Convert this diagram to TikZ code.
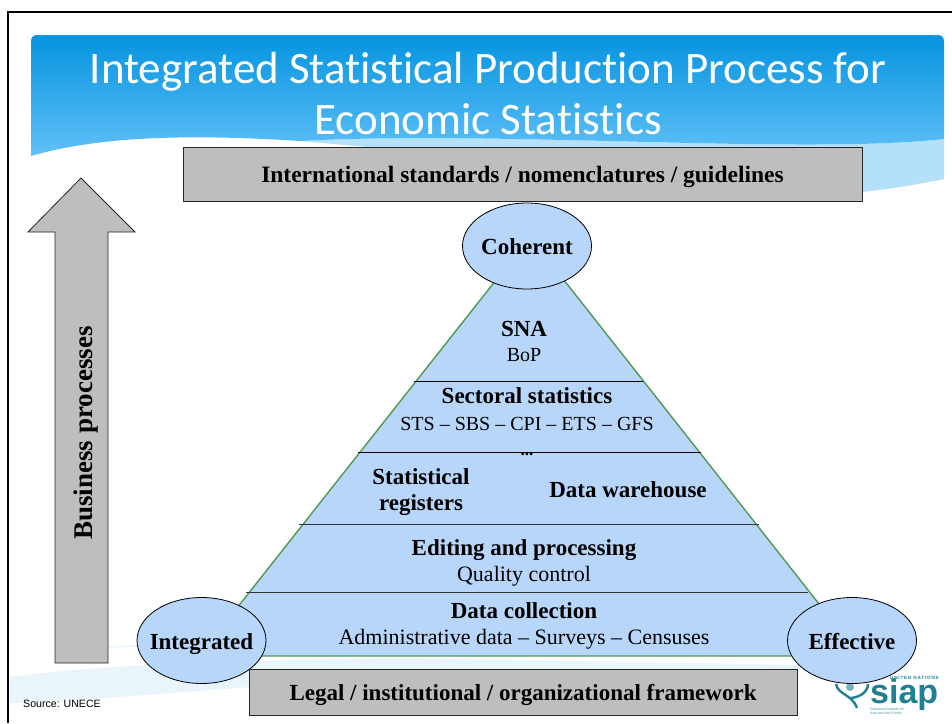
\documentclass[tikz,border=0pt]{standalone}
\usepackage{fontspec}
\setmainfont{Liberation Serif}
\newfontfamily\titlefont[Ligatures=CommonOff]{Carlito}
\newfontfamily\sourcefont{Liberation Sans}
\newfontfamily\spacedfont[LetterSpace=18]{Liberation Sans}
\usetikzlibrary{shapes.geometric}
\definecolor{layerblue}{HTML}{B8D6FA}
\definecolor{edgegreen}{HTML}{4F9A50}
\definecolor{boxgray}{HTML}{BEBEBE}
\definecolor{logoteal}{HTML}{1F7F93}
\definecolor{bannertop}{HTML}{0694E0}
\definecolor{bannerfoot}{HTML}{60C0F7}
\definecolor{bannerband}{HTML}{B4E0FA}
\definecolor{footband}{HTML}{EAF4FB}
\tikzset{
  graybox/.style={draw=black!85,fill=boxgray,line width=0.9pt,minimum height=#1,inner sep=0pt},
  bluecircle/.style={draw=black,fill=layerblue,ellipse,line width=0.8pt,minimum width=129pt,minimum height=86pt,inner xsep=-8pt,inner ysep=0pt},
  twolines/.style={font=\fontsize{23}{26}\selectfont\bfseries,align=center},
  boldtext/.style={twolines,text height=17pt,text depth=0pt},
  plaintext/.style={font=\fontsize{22}{26}\selectfont,text height=17pt,text depth=0pt}
}
\begin{document}
\begin{tikzpicture}[x=1pt,y=-1pt]
            \useasboundingbox (0,0) rectangle (952,723);
            \fill[white] (0,0) rectangle (952,723);
            % frame
            \draw[line width=1.7pt] (952,12) -- (8,12) -- (8,723);

            % title banner
            \fill[bannerband]
              (300,141) .. controls (500,130) and (800,155) .. (944,139)
              -- (944,179) .. controls (900,188) and (860,194) .. (800,196) -- (400,150) -- cycle;
            \shade[top color=bannertop,bottom color=bannerfoot]
              (31,42) .. controls (31,37) and (33,35) .. (38,35) -- (937,35)
              .. controls (942,35) and (944,37) .. (944,42) -- (944,139)
              .. controls (800,155) and (500,130) .. (300,141)
              .. controls (190,134) and (100,136) .. (31,156) -- cycle;

            % band at the foot of the slide
            \fill[footband]
              (10,677) .. controls (120,662) and (280,660) .. (400,658) -- (800,665) -- (800,672)
              -- (400,680) .. controls (250,683) and (120,700) .. (10,703) -- cycle;
            \draw[footband,line width=1.5pt] (108,647) -- (137,646);

            % title
            \node[text=white,font=\titlefont\fontsize{45}{51}\selectfont,align=center] (title) at (488,94)
              {Integrated Statistical Production Process for\\Economic Statistics};

            % frameworks
            \node[graybox=54pt,minimum width=679pt,boldtext,font=\fontsize{23.5}{26}\selectfont\bfseries] (standards) at (522.5,174)
              {International standards / nomenclatures / guidelines};
            \node[graybox=46pt,minimum width=548pt,boldtext] (legal) at (523,692)
              {Legal / institutional / organizational framework};

            % arrow
            \draw[draw=black!85,fill=boxgray,line width=0.8pt] (81,178) -- (135,232) -- (108,232) -- (108,663)
              -- (55,663) -- (55,232) -- (28,232) -- cycle;
            \node[boldtext,font=\fontsize{27}{27}\selectfont\bfseries,rotate=90] (business) at (83.5,433) {Business processes};

            % pyramid
            \coordinate (apex) at (530,237);
            \coordinate (left) at (199,656);
            \coordinate (right) at (860,656);
            \draw[edgegreen,fill=layerblue,line width=1.4pt] (apex) -- (right) -- (left) -- cycle;
            \draw[black,line width=0.8pt] (414,381) -- (643,381);
            \draw[black,line width=0.8pt] (358,452) -- (701,452);
            \draw[black!80,line width=0.8pt] (299,524) -- (759,524);
            \draw[black!80,line width=0.8pt] (246,592) -- (808,592);

            % logo
            \node[text=logoteal,font=\sourcefont\bfseries\fontsize{34}{34}\selectfont,anchor=base west,inner sep=0pt,text height=18pt,text depth=0pt] (siap) at (870,703) {siap};
            \fill[logoteal!60] (850,687) circle (4);
            \draw[logoteal,line width=2.4pt] (836,684) .. controls (838,695) and (852,694) .. (857,708);
            \draw[logoteal,line width=2.4pt] (868,684) .. controls (868,692) and (860,697) .. (851,698);
            \node[text=logoteal,font=\spacedfont\bfseries\fontsize{4.6}{5}\selectfont,anchor=east,inner sep=0pt] (unitednations) at (939,677.5) {UNITED NATIONS};
            \node[text=logoteal!80,font=\sourcefont\fontsize{3.6}{4}\selectfont,align=left,anchor=north west,inner sep=0pt] (institute) at (870,708) {Statistical Institute for\\Asia and the Pacific};

            % corners
            \node[bluecircle,boldtext] (coherent) at (527,246) {Coherent};
            \node[bluecircle,boldtext] (integrated) at (201.5,640.5) {Integrated};
            \node[bluecircle,boldtext] (effective) at (852,640.5) {Effective};

            % layers
            \node[boldtext] (sna) at (524,327.5) {SNA};
            \node[plaintext,font=\fontsize{20}{26}\selectfont] (bop) at (524,352.5) {BoP};
            \node[boldtext] (sectoral) at (527,394.5) {Sectoral statistics};
            \node[plaintext,font=\fontsize{20}{26}\selectfont] (sts) at (527,421.5) {STS -- SBS -- CPI -- ETS -- GFS};
            \node[boldtext,font=\fontsize{17}{20}\selectfont\bfseries] (dots) at (527,446.5) {...};
            \node[twolines] (registers) at (421,492.5) {Statistical\\registers};
            \node[boldtext] (warehouse) at (628,488.5) {Data warehouse};
            \node[boldtext] (editing) at (524,546.5) {Editing and processing};
            \node[plaintext] (quality) at (524,572.5) {Quality control};
            \node[boldtext] (collection) at (524,609.5) {Data collection};
            \node[plaintext] (admin) at (524,635.5) {Administrative data -- Surveys -- Censuses};

            \node[font=\sourcefont\fontsize{10.6}{13}\selectfont,anchor=west,inner sep=0pt] (source) at (23,704) {Source: UNECE};
\end{tikzpicture}
\end{document}
